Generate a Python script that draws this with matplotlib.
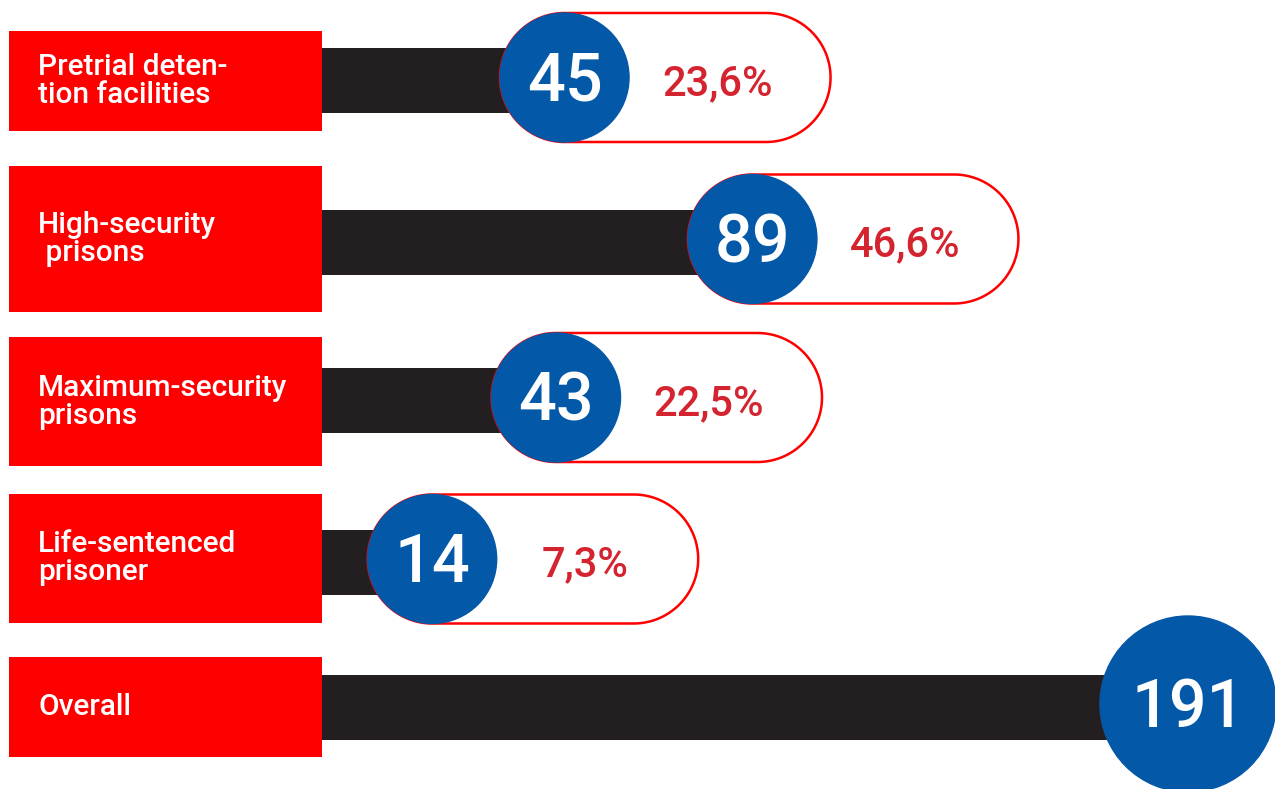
import numpy as np
import matplotlib
matplotlib.use("Agg")
import matplotlib.pyplot as plt
from matplotlib.patches import Rectangle, Ellipse, Polygon

# ---- data ----
categories = ["Pretrial deten-\ntion facilities", "High-security\n prisons",
              "Maximum-security\nprisons", "Life-sentenced\nprisoner", "Overall"]
counts = [45, 89, 43, 14, 191]
shares = ["23,6%", "46,6%", "22,5%", "7,3%", None]

# ---- layout / style ----
W, H = 1275, 789
PPU = 4.27          # pixels per count unit on the value axis
X0 = 372.4          # pixel position of value 0
box_top = [31, 166, 337, 494, 657]
box_bot = [131, 312, 466, 623, 757]
bar_center = [80.5, 242, 400.5, 562, 707]
BAR_H = 65
radius = [64.5, 64.5, 64.5, 64.5, 88]
BOX_L, BOX_R = 9, 322
PILL_EXT = 266
PCT_OFF = 153

RED = "#ff0000"
BLACK = "#231f20"
BLUE = "#0458a8"
PCT = "#d3242f"
FONT = ["Roboto", "DejaVu Sans"]

fig = plt.figure(figsize=(W / 100, H / 100), dpi=100)
ax = fig.add_axes([0, 0, 1, 1])
ax.set_xlim(-X0 / PPU, (W - X0) / PPU)
ax.set_ylim(H, 0)
ax.axis("off")


def pxv(x):
    return (x - X0) / PPU


for i, (lab, n, s) in enumerate(zip(categories, counts, shares)):
    cy = bar_center[i] - 3
    r = radius[i]
    # red label box
    ax.add_patch(Rectangle((pxv(BOX_L), box_top[i]), pxv(BOX_R) - pxv(BOX_L),
                           box_bot[i] - box_top[i], facecolor=RED, edgecolor="none", zorder=2))
    ax.text(pxv(38), (box_top[i] + box_bot[i]) / 2, lab, color="white", fontsize=21.5,
            fontweight="medium", family=FONT, ha="left", va="center", linespacing=1.0, zorder=5)
    # black bar
    ax.barh(bar_center[i], n - pxv(BOX_R), left=pxv(BOX_R), height=BAR_H,
            color=BLACK, zorder=1)
    cx_px = X0 + PPU * n
    # pill with percentage
    if s is not None:
        xr = cx_px + PILL_EXT - r
        xl = cx_px
        t1 = np.linspace(-np.pi / 2, np.pi / 2, 80)
        t2 = np.linspace(np.pi / 2, 3 * np.pi / 2, 80)
        xs = np.concatenate([xr + r * np.cos(t1), xl + r * np.cos(t2)])
        ys = np.concatenate([cy + r * np.sin(t1), cy + r * np.sin(t2)])
        ax.add_patch(Polygon(np.column_stack([pxv(xs), ys]), closed=True,
                             facecolor="white", edgecolor=RED, lw=1.8, zorder=2))
        ax.text(pxv(cx_px + PCT_OFF), cy + 6, s, color=PCT, fontsize=30,
                fontweight="medium", family=FONT, ha="center", va="center", zorder=5)
    # blue circle
    ax.add_patch(Ellipse((n, cy), 2 * r / PPU, 2 * r, facecolor=BLUE,
                         edgecolor=BLUE, lw=1, zorder=3))
    ax.text(n, cy + 5, str(n), color="white", fontsize=48, fontweight="medium",
            family=FONT, ha="center", va="center", zorder=5)

fig.savefig("out.png", dpi=100)
